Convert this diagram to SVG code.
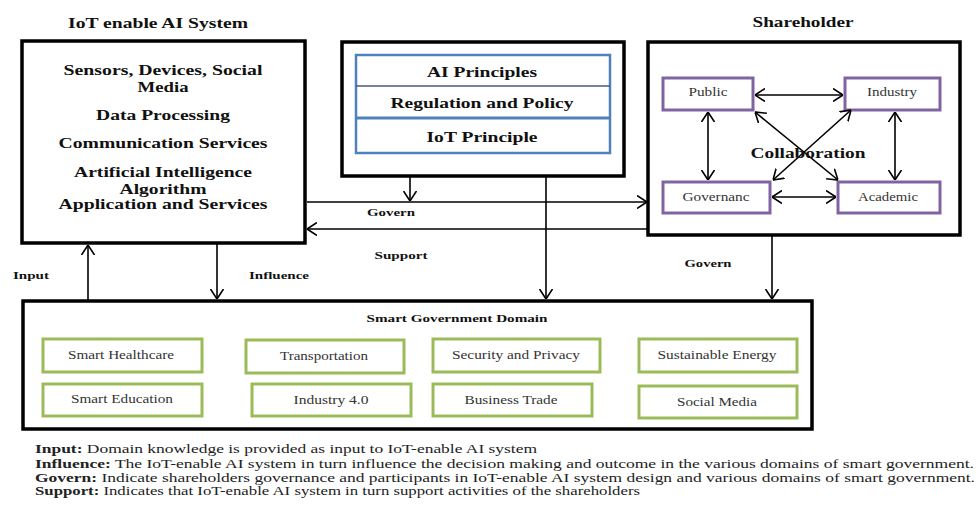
<svg xmlns="http://www.w3.org/2000/svg" width="976" height="506" viewBox="0 0 976 506">
<style>
.bx{fill:#fff;stroke:#000;stroke-width:3.5}
.blue{fill:#fff;stroke:#4f81bd;stroke-width:2.5}
.pur{fill:#fff;stroke:#8064a2;stroke-width:3}
.grn{fill:#fff;stroke:#9bbb59;stroke-width:3}
.ln{fill:none;stroke:#000;stroke-width:1.6}
text{font-family:'Liberation Serif','DejaVu Serif',serif}
.t{font-weight:bold;fill:#111;text-anchor:middle}
.n{fill:#333;text-anchor:middle}
.lg{fill:#222;font-size:12.5px}
.b{font-weight:bold}
</style>
<defs>
<marker id="ah" viewBox="0 0 10 14" refX="10" refY="7" markerWidth="10" markerHeight="14" markerUnits="userSpaceOnUse" orient="auto-start-reverse">
<path d="M0,0.5 L10,7 L0,13.5" fill="none" stroke="#000" stroke-width="1.6"/>
</marker>
</defs>
<rect width="976" height="506" fill="#fff"/>

<g id="iot-system">
<text class="t" x="158" y="28" font-size="15" textLength="180" lengthAdjust="spacingAndGlyphs">IoT enable AI System</text>
<rect class="bx" x="22" y="41" width="283" height="202"/>
<text class="t" x="163" y="75" font-size="15" textLength="199" lengthAdjust="spacingAndGlyphs">Sensors, Devices, Social</text>
<text class="t" x="163" y="92" font-size="15" textLength="51" lengthAdjust="spacingAndGlyphs">Media</text>
<text class="t" x="163" y="120" font-size="15" textLength="134" lengthAdjust="spacingAndGlyphs">Data Processing</text>
<text class="t" x="163" y="148" font-size="15" textLength="209" lengthAdjust="spacingAndGlyphs">Communication Services</text>
<text class="t" x="163" y="177" font-size="15" textLength="178" lengthAdjust="spacingAndGlyphs">Artificial Intelligence</text>
<text class="t" x="163" y="194" font-size="15" textLength="87" lengthAdjust="spacingAndGlyphs">Algorithm</text>
<text class="t" x="163" y="209" font-size="15" textLength="209" lengthAdjust="spacingAndGlyphs">Application and Services</text>
</g>

<g id="principles">
<rect class="bx" x="342" y="42" width="282" height="134"/>
<rect class="blue" x="356" y="55" width="254" height="98"/>
<line x1="356" y1="86" x2="610" y2="86" stroke="#4a5a78" stroke-width="1.5"/>
<line x1="356" y1="118" x2="610" y2="118" stroke="#4f81bd" stroke-width="3"/>
<text class="t" x="482" y="77" font-size="14" textLength="110" lengthAdjust="spacingAndGlyphs">AI Principles</text>
<text class="t" x="482" y="108" font-size="14" textLength="183" lengthAdjust="spacingAndGlyphs">Regulation and Policy</text>
<text class="t" x="482" y="142" font-size="14" textLength="111" lengthAdjust="spacingAndGlyphs">IoT Principle</text>
</g>

<g id="shareholder">
<text class="t" x="803" y="27" font-size="14" textLength="101" lengthAdjust="spacingAndGlyphs">Shareholder</text>
<rect class="bx" x="648" y="42" width="312" height="193"/>
<g id="public"><rect class="pur" x="663" y="78" width="90" height="32"/><text class="n" x="708" y="96" font-size="12" textLength="39" lengthAdjust="spacingAndGlyphs">Public</text></g>
<g id="industry"><rect class="pur" x="845" y="78" width="95" height="32"/><text class="n" x="892" y="96" font-size="12" textLength="50" lengthAdjust="spacingAndGlyphs">Industry</text></g>
<g id="governanc"><rect class="pur" x="663" y="182" width="107" height="31"/><text class="n" x="716" y="201" font-size="12" textLength="67" lengthAdjust="spacingAndGlyphs">Governanc</text></g>
<g id="academic"><rect class="pur" x="838" y="182" width="102" height="31"/><text class="n" x="888" y="201" font-size="12" textLength="60" lengthAdjust="spacingAndGlyphs">Academic</text></g>
</g>

<g id="connectors">
<line class="ln" x1="755" y1="95" x2="843" y2="95" marker-start="url(#ah)" marker-end="url(#ah)"/>
<line class="ln" x1="708" y1="112" x2="708" y2="180" marker-start="url(#ah)" marker-end="url(#ah)"/>
<line class="ln" x1="895" y1="112" x2="895" y2="180" marker-start="url(#ah)" marker-end="url(#ah)"/>
<line class="ln" x1="772" y1="197" x2="836" y2="197" marker-start="url(#ah)" marker-end="url(#ah)"/>
<line class="ln" x1="755" y1="112" x2="838" y2="180" marker-start="url(#ah)" marker-end="url(#ah)"/>
<line class="ln" x1="851" y1="110" x2="773" y2="180" marker-start="url(#ah)" marker-end="url(#ah)"/>
<line class="ln" x1="307" y1="202" x2="647" y2="202" marker-end="url(#ah)"/>
<line class="ln" x1="647" y1="229" x2="307" y2="229" marker-end="url(#ah)"/>
<line class="ln" x1="410" y1="177" x2="410" y2="201" marker-end="url(#ah)"/>
<line class="ln" x1="546" y1="177" x2="546" y2="299" marker-end="url(#ah)"/>
<line class="ln" x1="772" y1="236" x2="772" y2="299" marker-end="url(#ah)"/>
<line class="ln" x1="88" y1="300" x2="88" y2="245" marker-end="url(#ah)"/>
<line class="ln" x1="217" y1="244" x2="217" y2="299" marker-end="url(#ah)"/>
</g>

<g id="labels">
<text class="t" x="808" y="158" font-size="14" textLength="115" lengthAdjust="spacingAndGlyphs">Collaboration</text>
<text class="t" x="391" y="216" font-size="11" textLength="48" lengthAdjust="spacingAndGlyphs">Govern</text>
<text class="t" x="401" y="259" font-size="11" textLength="53" lengthAdjust="spacingAndGlyphs">Support</text>
<text class="t" x="31" y="279" font-size="11" textLength="36" lengthAdjust="spacingAndGlyphs">Input</text>
<text class="t" x="279" y="279" font-size="11" textLength="60" lengthAdjust="spacingAndGlyphs">Influence</text>
<text class="t" x="708" y="267" font-size="11" textLength="47" lengthAdjust="spacingAndGlyphs">Govern</text>
</g>

<g id="smart-gov">
<rect class="bx" x="23" y="301" width="789" height="128"/>
<text class="t" x="457" y="322" font-size="11" textLength="181" lengthAdjust="spacingAndGlyphs">Smart Government Domain</text>
<g id="healthcare"><rect class="grn" x="43" y="339" width="159" height="33"/><text class="n" x="121" y="359" font-size="12" textLength="106" lengthAdjust="spacingAndGlyphs">Smart Healthcare</text></g>
<g id="transportation"><rect class="grn" x="246" y="340" width="158" height="33"/><text class="n" x="324" y="360" font-size="12" textLength="88" lengthAdjust="spacingAndGlyphs">Transportation</text></g>
<g id="security"><rect class="grn" x="433" y="339" width="167" height="33"/><text class="n" x="516" y="359" font-size="12" textLength="128" lengthAdjust="spacingAndGlyphs">Security and Privacy</text></g>
<g id="energy"><rect class="grn" x="639" y="339" width="158" height="33"/><text class="n" x="717" y="359" font-size="12" textLength="119" lengthAdjust="spacingAndGlyphs">Sustainable Energy</text></g>
<g id="education"><rect class="grn" x="43" y="384" width="159" height="32"/><text class="n" x="122" y="403" font-size="12" textLength="102" lengthAdjust="spacingAndGlyphs">Smart Education</text></g>
<g id="industry40"><rect class="grn" x="252" y="384" width="159" height="32"/><text class="n" x="331" y="404" font-size="12" textLength="75" lengthAdjust="spacingAndGlyphs">Industry 4.0</text></g>
<g id="business"><rect class="grn" x="433" y="384" width="159" height="32"/><text class="n" x="511" y="404" font-size="12" textLength="93" lengthAdjust="spacingAndGlyphs">Business Trade</text></g>
<g id="socialmedia"><rect class="grn" x="639" y="386" width="158" height="32"/><text class="n" x="717" y="406" font-size="12" textLength="80" lengthAdjust="spacingAndGlyphs">Social Media</text></g>
</g>

<g id="legend">
<text class="lg" x="35" y="453" textLength="502" lengthAdjust="spacingAndGlyphs"><tspan class="b">Input:</tspan> Domain knowledge is provided as input to IoT-enable AI system</text>
<text class="lg" x="35" y="468" textLength="939" lengthAdjust="spacingAndGlyphs"><tspan class="b">Influence:</tspan> The IoT-enable AI system in turn influence the decision making and outcome in the various domains of smart government.</text>
<text class="lg" x="35" y="482" textLength="940" lengthAdjust="spacingAndGlyphs"><tspan class="b">Govern:</tspan> Indicate shareholders governance and participants in IoT-enable AI system design and various domains of smart government.</text>
<text class="lg" x="35" y="495" textLength="605" lengthAdjust="spacingAndGlyphs"><tspan class="b">Support:</tspan> Indicates that IoT-enable AI system in turn support activities of the shareholders</text>
</g>
</svg>
